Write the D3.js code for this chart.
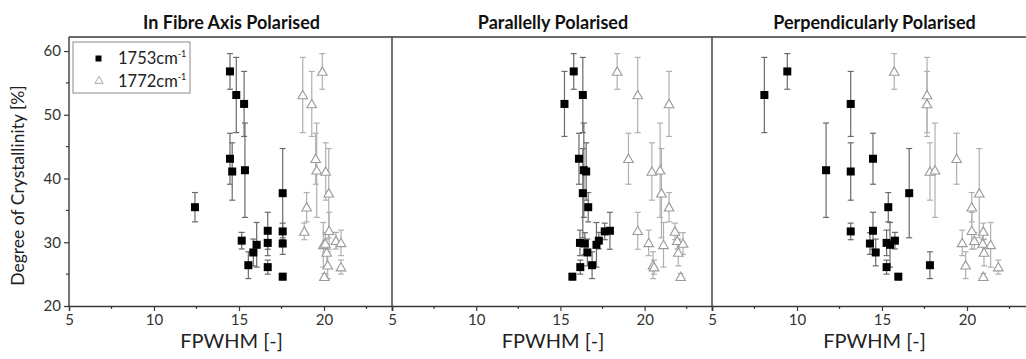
<!DOCTYPE html>
<html>
<head>
<meta charset="utf-8">
<script src="https://cdn.jsdelivr.net/npm/d3@7"></script>
<style>
  html, body { margin: 0; padding: 0; background: #fff; }
  svg { display: block; font-family: Lato, "Open Sans", sans-serif; }
</style>
</head>
<body>
<svg id="chart" width="1026" height="359"></svg>
<script>
// ---- data ----
const panelTitles = ["In Fibre Axis Polarised", "Parallelly Polarised", "Perpendicularly Polarised"];
const seriesNames = ["1753", "1772"];
const xTicks = [5, 10, 15, 20];
const xMinorTicks = [7.5, 12.5, 17.5, 22.5];
const yTicks = [20, 30, 40, 50, 60];
const yMinorTicks = [25, 35, 45, 55];

// crystallinity of each sample [%] and its error
const crystallinity = [35.5, 56.8, 53.1, 51.7, 43.1, 41.1, 41.3, 30.25, 26.4, 28.4, 29.6, 31.8, 29.9, 26.1, 37.7, 31.7, 29.8, 24.6];
const crystError    = [2.3, 2.8, 5.9, 5.1, 4.0, 4.5, 7.4, 1.3, 2.1, 2.1, 3.5, 2.9, 2.0, 1.1, 7.0, 1.3, 1.7, 0.5];

// FPWHM per sample, per polarisation, per band
const fibre1753 = [12.41, 14.47, 14.84, 15.3, 14.47, 14.6, 15.35, 15.16, 15.55, 15.84, 16.04, 16.69, 16.69, 16.69, 17.57, 17.57, 17.57, 17.57];
const fibre1772 = [18.98, 19.9, 18.75, 19.28, 19.51, 20.1, 19.57, 20.7, 20.22, 20.16, 19.96, 20.3, 21.0, 21.0, 20.28, 18.84, 20.08, 20.02];
const parallel1753 = [16.65, 15.79, 16.33, 15.24, 16.1, 16.53, 16.39, 17.28, 16.88, 16.6, 17.14, 17.94, 16.16, 16.18, 16.33, 17.63, 16.45, 15.71];
const parallel1772 = [21.45, 18.37, 19.59, 21.45, 19.04, 20.43, 20.92, 21.94, 20.5, 22.0, 21.12, 19.59, 20.24, 20.56, 21.0, 21.8, 22.28, 22.14];
const perpendicular1753 = [15.37, 9.43, 8.08, 13.16, 14.47, 13.16, 11.71, 15.76, 17.82, 14.63, 15.47, 14.47, 15.27, 15.27, 16.6, 13.16, 14.29, 15.96];
const perpendicular1772 = [20.28, 15.72, 17.65, 17.65, 19.39, 17.82, 18.12, 20.43, 19.92, 21.0, 21.39, 20.28, 19.72, 21.84, 20.72, 20.96, 20.92, 20.96];

const panelData = [
  [fibre1753, fibre1772],
  [parallel1753, parallel1772],
  [perpendicular1753, perpendicular1772]
];

// ---- layout ----
const svg = d3.select("#chart");
const plotTop = 37, plotBottom = 306;
const panelEdges = [69, 392, 712, 1035];
const frameColor = "#3a3a3a";
const textColor = "#222";

const y = d3.scaleLinear().domain([20, 62.2]).range([plotBottom, plotTop]);

panelEdges.slice(0, 3).forEach((left, p) => {
  const right = panelEdges[p + 1];
  const x = d3.scaleLinear().domain([5, 24]).range([left, right]);
  const g = svg.append("g");

  // frame
  g.append("line").attr("x1", left).attr("x2", right).attr("y1", plotTop).attr("y2", plotTop)
    .attr("stroke", frameColor).attr("stroke-width", 1.4);
  g.append("line").attr("x1", left).attr("x2", left).attr("y1", plotTop).attr("y2", plotBottom)
    .attr("stroke", frameColor).attr("stroke-width", 1.4);

  // x axis
  const xAxis = g.append("g").attr("transform", `translate(0,${plotBottom})`)
    .call(d3.axisBottom(x).tickValues(xTicks).tickSize(5).tickPadding(3).tickFormat(d3.format("d")));
  xAxis.select(".domain").attr("stroke", frameColor).attr("stroke-width", 1.4);
  xAxis.selectAll(".tick line").attr("stroke", frameColor).attr("stroke-width", 1.2);
  xAxis.selectAll(".tick text").attr("font-size", 15).attr("fill", "#333")
    .attr("font-family", "Lato, 'Open Sans', sans-serif");
  g.append("g").selectAll("line").data(xMinorTicks).join("line")
    .attr("x1", d => x(d)).attr("x2", d => x(d)).attr("y1", plotBottom).attr("y2", plotBottom + 3)
    .attr("stroke", frameColor).attr("stroke-width", 1.2);

  // title
  g.append("text").attr("x", (left + right) / 2 + 1).attr("y", 29)
    .attr("text-anchor", "middle").attr("font-weight", "bold").attr("font-size", 18)
    .attr("fill", "#111").text(panelTitles[p]);

  // x label
  g.append("text").attr("x", (left + right) / 2 + 1).attr("y", 348)
    .attr("text-anchor", "middle").attr("font-size", 20).attr("fill", textColor)
    .text("FPWHM [-]");

  // series: draw 1772 (grey, hollow triangles) first, then 1753 (black squares)
  const [xs1753, xs1772] = panelData[p];
  const sym = d3.symbol().type(d3.symbolTriangle).size(40);
  const cap = 3;

  const drawBars = (xs, color) => {
    const eb = g.append("g");
    xs.forEach((xv, i) => {
      const cy = crystallinity[i], e = crystError[i];
      const px = x(xv);
      eb.append("line").attr("x1", px).attr("x2", px).attr("y1", y(cy + e)).attr("y2", y(cy - e))
        .attr("stroke", color).attr("stroke-width", 1.2);
      [cy + e, cy - e].forEach(v => {
        eb.append("line").attr("x1", px - cap).attr("x2", px + cap).attr("y1", y(v)).attr("y2", y(v))
          .attr("stroke", color).attr("stroke-width", 1.2);
      });
    });
  };

  drawBars(xs1772, "#b0b0b0");
  g.append("g").selectAll("path").data(xs1772).join("path")
    .attr("d", sym)
    .attr("transform", (d, i) => `translate(${x(d)},${y(crystallinity[i]) + 1})`)
    .attr("fill", "#fff").attr("stroke", "#9a9a9a").attr("stroke-width", 1.1);

  drawBars(xs1753, "#6a6a6a");
  g.append("g").selectAll("rect").data(xs1753).join("rect")
    .attr("x", d => x(d) - 4).attr("y", (d, i) => y(crystallinity[i]) - 4)
    .attr("width", 8).attr("height", 8).attr("fill", "#000");
});

// y axis (left of first panel only)
const yAxis = svg.append("g").attr("transform", `translate(${panelEdges[0]},0)`)
  .call(d3.axisLeft(y).tickValues(yTicks).tickSize(5).tickPadding(3).tickFormat(d3.format("d")));
yAxis.select(".domain").remove();
yAxis.selectAll(".tick line").attr("stroke", frameColor).attr("stroke-width", 1.2);
yAxis.selectAll(".tick text").attr("font-size", 15).attr("fill", "#333")
  .attr("font-family", "Lato, 'Open Sans', sans-serif");
svg.append("g").selectAll("line").data(yMinorTicks).join("line")
  .attr("x1", panelEdges[0] - 3).attr("x2", panelEdges[0]).attr("y1", d => y(d)).attr("y2", d => y(d))
  .attr("stroke", frameColor).attr("stroke-width", 1.2);

svg.append("text")
  .attr("transform", `translate(24,${(plotTop + plotBottom) / 2 + 14}) rotate(-90)`)
  .attr("text-anchor", "middle").attr("font-size", 17.5).attr("fill", textColor)
  .text("Degree of Crystallinity [%]");

// legend
const lg = svg.append("g");
lg.append("rect").attr("x", 73).attr("y", 42).attr("width", 117).attr("height", 51)
  .attr("fill", "#fff").attr("stroke", "#8a8a8a").attr("stroke-width", 1);
lg.append("rect").attr("x", 95.5).attr("y", 55.5).attr("width", 6).attr("height", 6).attr("fill", "#000");
lg.append("path").attr("d", d3.symbol().type(d3.symbolTriangle).size(28))
  .attr("transform", "translate(99,81)").attr("fill", "#fff").attr("stroke", "#aaa").attr("stroke-width", 1);
[[seriesNames[0], 64], [seriesNames[1], 87]].forEach(([name, by]) => {
  const t = lg.append("text").attr("x", 118).attr("y", by).attr("font-size", 16.5).attr("fill", textColor);
  t.append("tspan").text(name + "cm");
  t.append("tspan").attr("font-size", 9).attr("dy", -7).text("-1");
});
</script>
</body>
</html>
